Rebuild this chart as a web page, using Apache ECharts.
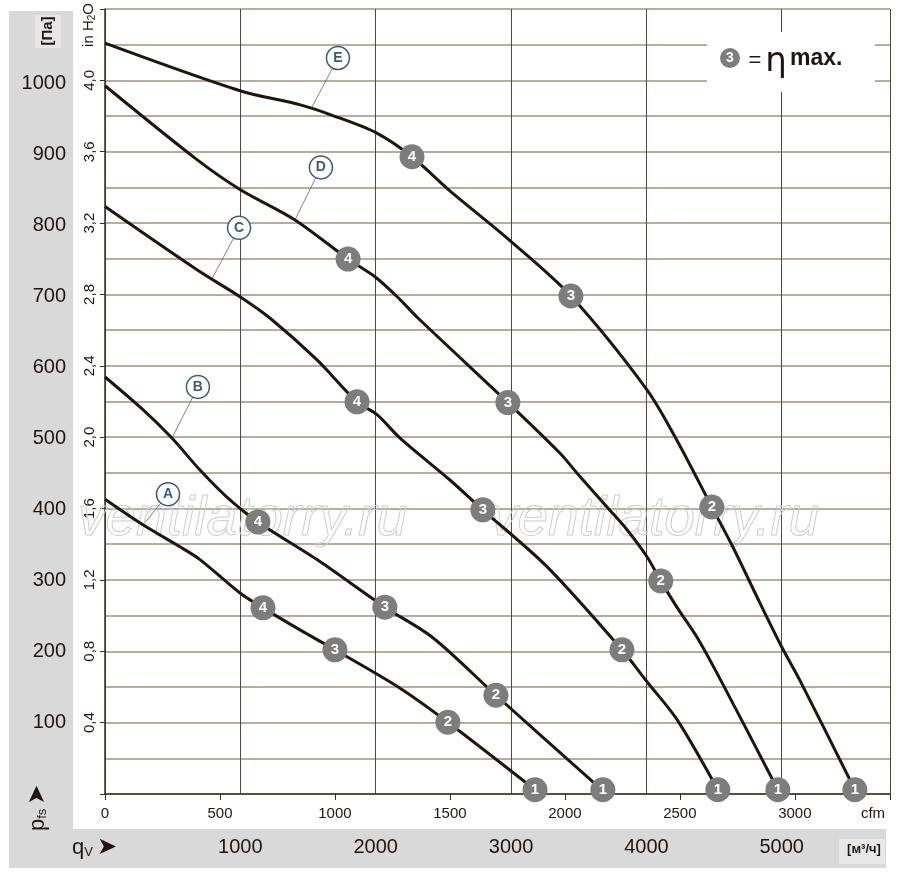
<!DOCTYPE html>
<html lang="ru">
<head>
<meta charset="UTF-8">
<title>Fan curves</title>
<style>
  html, body { margin: 0; padding: 0; background: #fff; }
  #box { width: 900px; height: 881px; }
</style>
</head>
<body>
<div id="box"></div>
<script src="https://cdn.jsdelivr.net/npm/echarts@6/dist/echarts.min.js"></script>
<script>
// curves: [cfm, Pa]
var curveA = [[0,415],[165,379],[326,348],[413,330],[587,283],[687,262],[848,231],[1000,203],[1283,149],[1491,101],[1870,6]];
var curveB = [[0,587],[165,541],[291,501],[413,456],[530,418],[665,383],[922,330],[1217,263],[1426,220],[1700,139],[2122,17],[2165,6]];
var curveC = [[0,827],[400,738],[587,700],[717,670],[922,611],[1096,552],[1183,534],[1283,501],[1500,442],[1643,400],[1922,320],[2248,203],[2357,158],[2487,105],[2665,6]];
var curveD = [[0,997],[400,893],[587,851],[826,808],[1057,753],[1178,727],[1283,696],[1361,670],[1752,551],[1978,480],[2052,452],[2183,404],[2270,372],[2357,334],[2417,300],[2487,263],[2574,221],[2678,160],[2926,6]];
var curveE = [[0,1057],[587,990],[850,970],[991,955],[1178,931],[1335,897],[1500,849],[1761,779],[2026,701],[2357,569],[2487,498],[2639,404],[2730,348],[2848,269],[2943,207],[3022,160],[3261,6]];

// numbered operating points: [cfm, Pa, number]
var pointsA = [[687,262,'4'],[1000,203,'3'],[1491,101,'2'],[1870,6,'1']];
var pointsB = [[665,383,'4'],[1217,263,'3'],[1700,139,'2'],[2165,6,'1']];
var pointsC = [[1096,552,'4'],[1643,400,'3'],[2248,203,'2'],[2665,6,'1']];
var pointsD = [[1057,753,'4'],[1752,551,'3'],[2417,300,'2'],[2926,6,'1']];
var pointsE = [[1335,897,'4'],[2026,701,'3'],[2639,404,'2'],[3261,6,'1']];

// curve letters, where the tag sits and where its leader touches the curve
var tagLetters = ['A','B','C','D','E'];
var tagPos = [[274,422],[404,573],[583,797],[939,882],[1013,1036]];
var tagAnchor = [[174,382],[291,501],[465,725],[826,808],[900,967]];

// axis ranges
var m3hMax = 5800;
var cfmMax = 3413.8;   // 5800 m3/h
var inchMax = 4.4;
var paMax = 1105;

var FONT = '"Liberation Sans Narrow", "Arial Narrow", "Liberation Sans", Arial, sans-serif';
var INK = '#1f1510';
var CURVE = '#20140c';
var GRAY = '#7d7d7d';
var TAG = '#3d5a75';

var chart = echarts.init(document.getElementById('box'));

var curves = [curveA, curveB, curveC, curveD, curveE];
var points = [].concat(pointsA, pointsB, pointsC, pointsD, pointsE);

var series = curves.map(function (c, i) {
  return {
    name: tagLetters[i],
    type: 'line',
    xAxisIndex: 0,
    yAxisIndex: 2,
    data: c,
    smooth: 0.3,
    symbol: 'none',
    lineStyle: { color: CURVE, width: 3 },
    silent: true,
    z: 3
  };
});

series.push({
  type: 'lines',
  coordinateSystem: 'cartesian2d',
  xAxisIndex: 0,
  yAxisIndex: 2,
  data: tagPos.map(function (p, i) { return { coords: [tagAnchor[i], p] }; }),
  lineStyle: { color: '#6e6458', width: 0.8, opacity: 1 },
  silent: true,
  z: 3
});

series.push({
  type: 'scatter',
  xAxisIndex: 0,
  yAxisIndex: 2,
  data: tagPos.map(function (p, i) { return [p[0], p[1], tagLetters[i]]; }),
  symbolSize: 23,
  itemStyle: { color: '#fff', borderColor: TAG, borderWidth: 1.5, opacity: 1 },
  label: {
    show: true, position: 'inside',
    formatter: function (p) { return p.value[2]; },
    color: TAG, fontWeight: 'bold', fontSize: 14, fontFamily: FONT
  },
  silent: true,
  z: 6
});

series.push({
  type: 'scatter',
  xAxisIndex: 0,
  yAxisIndex: 2,
  data: points,
  symbolSize: 25,
  itemStyle: { color: GRAY, opacity: 1 },
  label: {
    show: true, position: 'inside',
    formatter: function (p) { return p.value[2]; },
    color: '#fff', fontWeight: 'bold', fontSize: 15, fontFamily: FONT
  },
  silent: true,
  z: 6
});

var axisLine = { show: true, lineStyle: { color: '#3a2e24', width: 1.5 } };

var option = {
  animation: false,
  backgroundColor: '#fff',
  grid: { left: 105, right: 10, top: 9, bottom: 87, containLabel: false, outerBoundsMode: 'none' },
  xAxis: [
    {
      type: 'value', min: 0, max: cfmMax, interval: 500, position: 'bottom',
      axisLine: axisLine,
      axisTick: { show: true, length: 6, lineStyle: { color: '#3a2e24' } },
      axisLabel: {
        margin: 12, fontSize: 15, color: INK, fontFamily: FONT,
        formatter: function (v) { return v % 500 === 0 ? String(v) : ''; }
      },
      splitLine: { show: false }
    },
    {
      type: 'value', min: 0, max: m3hMax, interval: 1000, position: 'bottom',
      axisLine: { show: false }, axisTick: { show: false },
      axisLabel: {
        margin: 43, fontSize: 20, color: INK, fontFamily: FONT,
        formatter: function (v) { return (v > 0 && v % 1000 === 0) ? String(v) : ''; }
      },
      splitLine: { show: true, lineStyle: { color: '#54483c', width: 1 } }
    }
  ],
  yAxis: [
    {
      type: 'value', min: 0, max: inchMax, interval: 0.2, position: 'left',
      axisLine: axisLine, axisTick: { show: false }, axisLabel: { show: false },
      splitLine: { show: true, lineStyle: { color: '#9b9284', width: 1.5 } }
    },
    {
      type: 'value', min: 0, max: inchMax, interval: 0.4, position: 'left',
      axisLine: { show: false },
      axisTick: { show: true, length: 5, lineStyle: { color: '#3a2e24' } },
      axisLabel: {
        rotate: 90, margin: 8, fontSize: 15, color: INK, fontFamily: FONT,
        formatter: function (v) {
          if (v <= 0 || v > 4.01) return '';
          return v.toFixed(1).replace('.', ',');
        }
      },
      splitLine: { show: false }
    },
    {
      type: 'value', min: 0, max: paMax, interval: 100, position: 'left',
      axisLine: { show: false }, axisTick: { show: false },
      axisLabel: {
        margin: 39, fontSize: 20, color: INK, fontFamily: FONT,
        formatter: function (v) { return (v > 0 && v <= 1000) ? String(v) : ''; }
      },
      splitLine: { show: false }
    }
  ],
  graphic: [
    // grey frame bands
    { type: 'rect', z: -10, shape: { x: 9, y: 11, width: 64, height: 818 }, style: { fill: '#d9d9d9' } },
    { type: 'rect', z: -10, shape: { x: 9, y: 829, width: 877, height: 39 }, style: { fill: '#d9d9d9' } },
    { type: 'rect', z: -9, shape: { x: 35, y: 15, width: 26, height: 33 }, style: { fill: '#e6e6e6' } },
    { type: 'rect', z: -9, shape: { x: 839, y: 839, width: 46, height: 25 }, style: { fill: '#e8e8e8' } },
    {
      type: 'text', x: 48, y: 31, rotation: Math.PI / 2, z: 5,
      style: { text: '[Па]', fontSize: 15, fontWeight: 'bold', fontFamily: FONT, fill: INK, align: 'center', verticalAlign: 'middle' }
    },
    {
      type: 'text', x: 89, y: 25, rotation: Math.PI / 2, z: 5,
      style: {
        text: '{a|in H}{b|2}{a|O}', align: 'center', verticalAlign: 'middle', fill: INK,
        rich: {
          a: { fontSize: 15, fontFamily: FONT, fill: INK },
          b: { fontSize: 10, fontFamily: FONT, fill: INK, padding: [6, 0, 0, 0] }
        }
      }
    },
    {
      type: 'text', x: 873, y: 814, z: 5,
      style: { text: 'cfm', fontSize: 15, fontFamily: FONT, fill: INK, align: 'center', verticalAlign: 'middle' }
    },
    {
      type: 'text', x: 864, y: 849, z: 5,
      style: { text: '[м³/ч]', fontSize: 13, fontWeight: 'bold', fontFamily: FONT, fill: INK, align: 'center', verticalAlign: 'middle' }
    },
    {
      type: 'text', x: 72, y: 848, z: 5,
      style: {
        text: '{q|q}{v|V}{r|➤}', align: 'left', verticalAlign: 'middle', fill: INK,
        rich: {
          q: { fontSize: 22, fontFamily: FONT, fill: INK },
          v: { fontSize: 13, fontFamily: FONT, fill: INK, padding: [8, 4, 0, 0] },
          r: { fontSize: 24, fontFamily: '"DejaVu Sans", sans-serif', fill: INK }
        }
      }
    },
    {
      type: 'text', x: 38, y: 831, rotation: Math.PI / 2, z: 5,
      style: {
        text: '{p|p}{s|fs}{r|➤}', align: 'left', verticalAlign: 'middle', fill: INK,
        rich: {
          p: { fontSize: 22, fontFamily: FONT, fill: INK },
          s: { fontSize: 13, fontFamily: FONT, fill: INK, padding: [8, 4, 0, 0] },
          r: { fontSize: 24, fontFamily: '"DejaVu Sans", sans-serif', fill: INK }
        }
      }
    },
    // watermark
    {
      type: 'text', x: 78, y: 520, z: 1, silent: true,
      style: { text: 'ventilatorry.ru', fontSize: 55, fontStyle: 'italic', fontFamily: '"Liberation Sans", Arial, sans-serif',
        fill: 'rgba(255,255,255,0)', stroke: '#cdcdcd', lineWidth: 1, align: 'left', verticalAlign: 'middle' }
    },
    {
      type: 'text', x: 490, y: 520, z: 1, silent: true,
      style: { text: 'ventilatorry.ru', fontSize: 55, fontStyle: 'italic', fontFamily: '"Liberation Sans", Arial, sans-serif',
        fill: 'rgba(255,255,255,0)', stroke: '#cdcdcd', lineWidth: 1, align: 'left', verticalAlign: 'middle' }
    },
    // eta max note
    { type: 'rect', z: 20, shape: { x: 707, y: 32, width: 168, height: 60 }, style: { fill: '#fff' } },
    { type: 'circle', z: 21, shape: { cx: 730, cy: 58, r: 10 }, style: { fill: GRAY } },
    {
      type: 'text', x: 730, y: 58, z: 22,
      style: { text: '3', fontSize: 14, fontWeight: 'bold', fontFamily: FONT, fill: '#fff', align: 'center', verticalAlign: 'middle' }
    },
    {
      type: 'text', x: 755, y: 61, z: 22,
      style: { text: '=', fontSize: 22, fontFamily: FONT, fill: INK, align: 'center', verticalAlign: 'middle' }
    },
    {
      type: 'text', x: 776, y: 62, z: 22,
      style: { text: 'η', fontSize: 34, fontFamily: '"DejaVu Sans", sans-serif', fill: INK, align: 'center', verticalAlign: 'middle' }
    },
    {
      type: 'text', x: 790, y: 59, z: 22,
      style: { text: 'max.', fontSize: 23, fontWeight: 'bold', fontFamily: FONT, fill: INK, align: 'left', verticalAlign: 'middle' }
    }
  ],
  series: series
};

chart.setOption(option);
</script>
</body>
</html>
